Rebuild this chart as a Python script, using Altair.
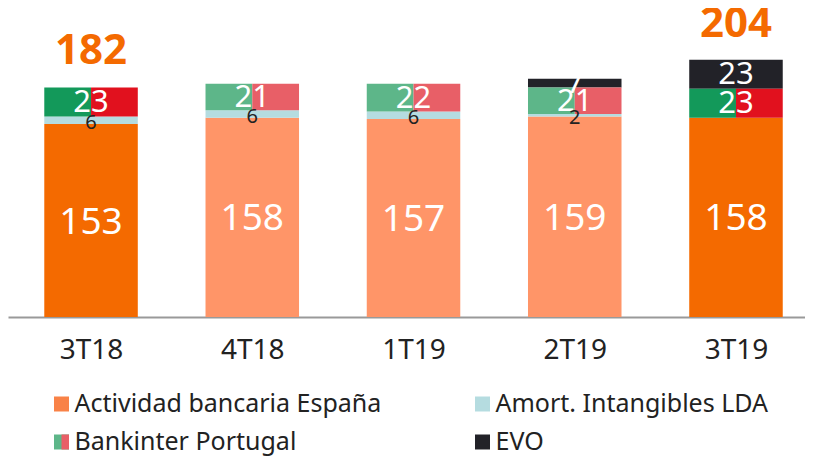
import json
import altair as alt
import pandas as pd

# ---- data ----
categories = ["3T18", "4T18", "1T19", "2T19", "3T19"]
actividad = [153, 158, 157, 159, 158]
lda = [6, 6, 6, 2, 0]
portugal = [23, 21, 22, 21, 23]
evo = [0, 0, 0, 7, 23]
highlighted = ["3T18", "3T19"]

series_names = ["Actividad bancaria España", "Amort. Intangibles LDA",
                "Bankinter Portugal", "EVO"]
series_values = [actividad, lda, portugal, evo]

rows = []
for i, c in enumerate(categories):
    for o, (name, vals) in enumerate(zip(series_names, series_values)):
        rows.append(dict(cat=c, idx=i, series=name, order=o, value=vals[i],
                         hl=c in highlighted))
df = pd.DataFrame(rows)

legend_df = pd.DataFrame({
    "series": series_names,
    "col": [0, 1, 0, 1],
    "row": [0, 0, 1, 1],
})

# ---- styles ----
FONT = "Noto Sans"
ORANGE_D, ORANGE_L = "#F46A00", "#FF9568"
GREEN_D, GREEN_L = "#13995A", "#5DB689"
RED_D, RED_L = "#E1111E", "#E85F67"
LDA_C = "#B5DCE0"
EVO_C = "#222228"
TXT = "#222222"

W, H = 797, 448
PLOT_H = 309

key_domain = [
    "Actividad bancaria España|d", "Actividad bancaria España|l",
    "Amort. Intangibles LDA|d", "Amort. Intangibles LDA|l",
    "EVO|d", "EVO|l",
    "Bankinter Portugal|d", "Bankinter Portugal|l",
]
key_range = [ORANGE_D, ORANGE_L, LDA_C, LDA_C, EVO_C, EVO_C, GREEN_D, GREEN_L]
right_range = [RED_D, RED_L]

half = 0.29
xscale = alt.Scale(domain=[-0.515, 4.428], nice=False, zero=False)
yscale = alt.Scale(domain=[0, 245], nice=False, range=[PLOT_H, 0])
xaxis = alt.Axis(
    values=list(range(len(categories))),
    labelExpr=f"{json.dumps(categories)}[datum.value]",
    title=None, grid=False, ticks=False, domainColor="#999999", domainWidth=2,
    labelFontSize=28, labelColor=TXT, labelFont=FONT, labelPadding=19,
    offset=PLOT_H - H,
)

base = (
    alt.Chart(df)
    .transform_stack(stack="value", groupby=["cat"],
                     sort=[alt.SortField("order")], as_=["y0", "y1"])
    .transform_calculate(
        xl=f"datum.idx - {half}", xr=f"datum.idx + {half}",
        ym="(datum.y0 + datum.y1) / 2",
        key="datum.series + (datum.hl ? '|d' : '|l')",
    )
)

Y0 = alt.Y("y0:Q", scale=yscale, axis=None)
bars = base.transform_filter("datum.series !== 'Bankinter Portugal'").mark_rect().encode(
    x=alt.X("xl:Q", scale=xscale, axis=xaxis), x2="xr:Q", y=Y0, y2="y1:Q",
    color=alt.Color("key:N", scale=alt.Scale(domain=key_domain, range=key_range), legend=None),
)
port_left = base.transform_filter("datum.series === 'Bankinter Portugal'").mark_rect().encode(
    x=alt.X("xl:Q", scale=xscale, axis=xaxis), x2="idx:Q", y=Y0, y2="y1:Q",
    color=alt.Color("key:N", scale=alt.Scale(domain=key_domain, range=key_range), legend=None),
)
port_right = base.transform_filter("datum.series === 'Bankinter Portugal'").mark_rect().encode(
    x=alt.X("idx:Q", scale=xscale, axis=xaxis), x2="xr:Q", y=Y0, y2="y1:Q",
    fill=alt.Fill("hl:N", scale=alt.Scale(domain=[True, False], range=right_range), legend=None),
)


def seg_text(filt, size, color, dy=0):
    return base.transform_filter(filt).mark_text(
        font=FONT, fontSize=size, color=color, baseline="middle", align="center", dy=dy
    ).encode(
        x=alt.X("idx:Q", scale=xscale, axis=xaxis),
        y=alt.Y("ym:Q", scale=yscale, axis=None),
        text="value:Q",
    )


t_act = seg_text("datum.series === 'Actividad bancaria España'", 37, "white", 2)
t_port = seg_text("datum.series === 'Bankinter Portugal'", 31, "white", 1)
t_evo = seg_text("datum.series === 'EVO' && datum.value > 0", 31, "white", 1)
t_lda = seg_text("datum.series === 'Amort. Intangibles LDA' && datum.value > 0", 20, TXT, 3)

totals = (
    alt.Chart(df)
    .transform_filter("datum.hl")
    .transform_aggregate(total="sum(value)", groupby=["cat", "idx"])
    .mark_text(font=FONT, fontSize=42, fontWeight="bold", color=ORANGE_D,
               baseline="middle", align="center", dy=-36)
    .encode(
        x=alt.X("idx:Q", scale=xscale, axis=xaxis),
        y=alt.Y("total:Q", scale=yscale, axis=None),
        text="total:Q",
    )
)

# ---- legend (own pixel scales) ----
lx = alt.Scale(domain=[0, 1], range=[53.5, 474.5])
ly = alt.Scale(domain=[0, 1], range=[396, 434])
leg_colors = alt.Scale(domain=series_names, range=["#F98247", LDA_C, GREEN_L, EVO_C])
leg_sq = alt.Chart(legend_df).mark_point(
    shape="square", filled=True, size=225, opacity=1
).encode(
    x=alt.X("col:Q", scale=lx, axis=None),
    y=alt.Y("row:Q", scale=ly, axis=None),
    color=alt.Color("series:N", scale=leg_colors, legend=None),
)
leg_half = alt.Chart(legend_df).transform_filter(
    "datum.series === 'Bankinter Portugal'"
).mark_point(shape="M0,-1H1V1H0Z", filled=True, size=225, opacity=1, color=RED_L).encode(
    x=alt.X("col:Q", scale=lx, axis=None),
    y=alt.Y("row:Q", scale=ly, axis=None),
)
leg_txt = alt.Chart(legend_df).mark_text(
    font=FONT, fontSize=25, color=TXT, align="left", baseline="middle", dx=13, dy=0
).encode(
    x=alt.X("col:Q", scale=lx, axis=None),
    y=alt.Y("row:Q", scale=ly, axis=None),
    text="series:N",
)
legend = alt.layer(leg_sq, leg_half, leg_txt)

main = alt.layer(bars, port_left, port_right, t_act, t_port, t_evo, t_lda, totals)

chart = (
    alt.layer(main, legend)
    .resolve_scale(x="independent", y="independent", color="independent")
    .properties(width=W, height=H, padding=0,
                autosize=alt.AutoSizeParams(type="none"))
    .configure_view(stroke=None)
)

chart.save("out.html", embed_options={"renderer": "svg", "actions": False})
